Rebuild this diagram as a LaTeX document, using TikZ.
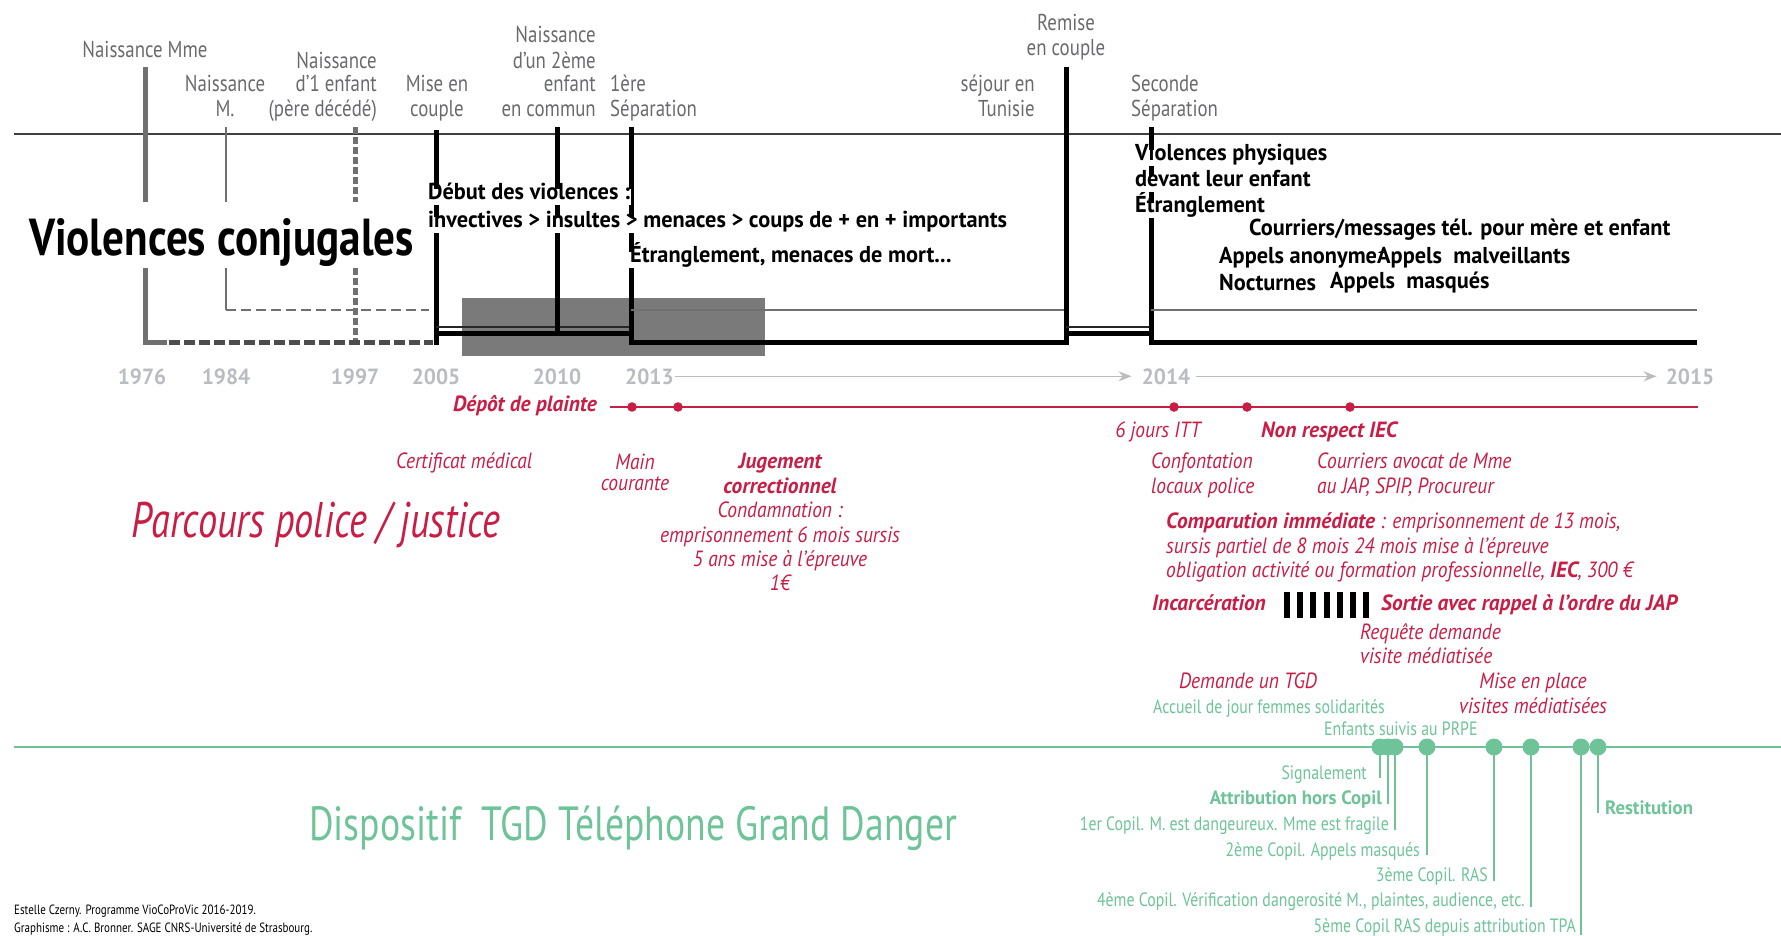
\documentclass[tikz,border=0pt]{standalone}
\usepackage{fontspec}
\setmainfont{PT Sans}[UprightFeatures={FakeStretch=0.82}, ItalicFeatures={FakeStretch=0.885}, BoldFeatures={FakeStretch=0.97}, BoldItalicFeatures={FakeStretch=0.97}]
\newfontfamily\titlefont{PT Sans}[FakeStretch=0.83]
\newfontfamily\parcfont{PT Sans}[FakeStretch=0.77]
\newfontfamily\tgdfont{PT Sans}[FakeStretch=0.785]
\usetikzlibrary{arrows.meta}
\definecolor{lblgray}{RGB}{105,106,109}
\definecolor{yrgray}{RGB}{185,188,193}
\definecolor{boxgray}{RGB}{122,122,122}
\definecolor{mmegray}{RGB}{112,112,112}
\definecolor{jred}{RGB}{200,30,70}
\definecolor{tgdgreen}{RGB}{110,196,152}
\tikzset{
  toplbl/.style={font=\fontsize{23}{25}\selectfont, text=lblgray, inner sep=0pt},
  blk/.style={font=\bfseries\fontsize{23}{26}\selectfont, text=black, fill=white, inner xsep=1pt, inner ysep=3pt, text height=0.75em, text depth=0.25em},
  yr/.style={font=\bfseries\fontsize{22}{24}\selectfont, text=yrgray, inner sep=0pt},
  rd/.style={font=\itshape\fontsize{22}{24}\selectfont, text=jred, inner sep=0pt},
  rdb/.style={font=\bfseries\itshape\fontsize{22}{24}\selectfont, text=jred, inner sep=0pt},
  gr/.style={font=\fontsize{19.3}{22}\selectfont, text=tgdgreen, inner sep=0pt},
  grb/.style={font=\bfseries\fontsize{19.3}{22}\selectfont, text=tgdgreen, inner sep=0pt},
  blkline/.style={line width=5pt, black},
  thinblk/.style={line width=1.5pt, black!85},
  thingray/.style={line width=1.8pt, mmegray},
  mmeline/.style={line width=5pt, mmegray},
  dline/.style={line width=5pt, mmegray, dash pattern=on 7pt off 3pt},
  yarrow/.style={line width=1.5pt, yrgray, -{Stealth[length=13pt,width=10pt]}},
  grline/.style={line width=2.5pt, tgdgreen},
}
\begin{document}
\begin{tikzpicture}[x=1pt,y=-1pt]
\useasboundingbox (0,0) rectangle (1781,935);

% grey box
\fill[boxgray] (462,298) rectangle (765,356);

% top axis line
\draw[line width=1.5pt, black!75] (14,134) -- (1781,134);

% Mme
\draw[mmeline] (145,67) -- (145,202);
\draw[mmeline] (145,268) -- (145,342) -- (167,342);
\draw[line width=5pt, black!70, dash pattern=on 11pt off 4pt] (169,342) -- (433,342);
% M.
\draw[thingray, line width=1.3pt] (226,127) -- (226,202);
\draw[thingray, line width=1.3pt] (226,268) -- (226,310);
\draw[thingray, line width=1.5pt, dash pattern=on 10pt off 5pt] (226,310) -- (429,310);
% 1997
\draw[dline] (355,127) -- (355,202);
\draw[dline] (355,268) -- (355,340);
% couple 1
\draw[blkline] (436,130) -- (436,344.5);
\draw[thinblk] (436,327) -- (631,327);
\draw[blkline] (433.5,333) -- (631,333);
\draw[blkline] (557,127) -- (557,333);
\draw[blkline] (631,127) -- (631,344.5);
% separation 1
\draw[blkline] (631,342) -- (1066,342);
\draw[thingray] (631,310) -- (1066,310);
\draw[blkline] (1066,67) -- (1066,344.5);
% couple 2
\draw[thinblk] (1066,327) -- (1151,327);
\draw[blkline] (1066,333) -- (1151,333);
\draw[blkline] (1151,127) -- (1151,344.5);
% separation 2
\draw[blkline] (1151,342) -- (1697,342);
\draw[thingray] (1151,310) -- (1697,310);

% top labels
\node[toplbl, anchor=base] (lmme) at (145,57) {Naissance Mme};
\node[toplbl, anchor=base] (lm1) at (225,91) {Naissance};
\node[toplbl, anchor=base] (lm2) at (225,116) {M.};
\node[toplbl, anchor=base east] (le1) at (377,68) {Naissance};
\node[toplbl, anchor=base east] (le2) at (377,91) {d’1 enfant};
\node[toplbl, anchor=base east] (le3) at (377,116) {(père décédé)};
\node[toplbl, anchor=base] (lc1) at (437,91) {Mise en};
\node[toplbl, anchor=base] (lc2) at (437,116) {couple};
\node[toplbl, anchor=base east] (ld1) at (596,42) {Naissance};
\node[toplbl, anchor=base east] (ld2) at (596,68) {d’un 2ème};
\node[toplbl, anchor=base east] (ld3) at (596,91) {enfant};
\node[toplbl, anchor=base east] (ld4) at (596,116) {en commun};
\node[toplbl, anchor=base west] (ls1) at (610,91) {1ère};
\node[toplbl, anchor=base west] (ls2) at (610,116) {Séparation};
\node[toplbl, anchor=base east] (lt1) at (1035,91) {séjour en};
\node[toplbl, anchor=base east] (lt2) at (1035,116) {Tunisie};
\node[toplbl, anchor=base] (lr1) at (1066,30) {Remise};
\node[toplbl, anchor=base] (lr2) at (1066,55) {en couple};
\node[toplbl, anchor=base west] (lq1) at (1131,91) {Seconde};
\node[toplbl, anchor=base west] (lq2) at (1131,116) {Séparation};

% title
\node[font=\titlefont\bfseries\fontsize{52}{56}\selectfont, inner sep=0pt, anchor=base west] (title) at (29,255) {Violences conjugales};

% black annotations
\node[blk, anchor=base west] (b1) at (427,199) {Début des violences :};
\node[blk, anchor=base west] (b2) at (427,227) {invectives > insultes > menaces > coups de + en + importants};
\node[blk, anchor=base west] (b3) at (629,262) {Étranglement, menaces de mort...};
\node[blk, anchor=base west] (b4) at (1134,160) {Violences physiques};
\node[blk, anchor=base west] (b5) at (1134,186) {devant leur enfant};
\node[blk, anchor=base west] (b6) at (1134,212) {Étranglement};
\node[blk, anchor=base west, fill=none] (b7) at (1248,235) {Courriers/messages tél. pour mère et enfant};
\node[blk, anchor=base west, fill=none] (b8) at (1218,263) {Appels anonymes};
\node[blk, anchor=base west] (b9) at (1376,263) {Appels\ \ malveillants};
\node[blk, anchor=base west, fill=none] (b10) at (1218,290) {Nocturnes};
\node[blk, anchor=base west, fill=none] (b11) at (1329,288) {Appels\ \ masqués};

% years
\node[yr, anchor=base] (y1976) at (142,384) {1976};
\node[yr, anchor=base] (y1984) at (226,384) {1984};
\node[yr, anchor=base] (y1997) at (355,384) {1997};
\node[yr, anchor=base] (y2005) at (436,384) {2005};
\node[yr, anchor=base] (y2010) at (557,384) {2010};
\node[yr, anchor=base west] (y2013) at (625,384) {2013};
\node[yr, anchor=base] (y2014) at (1166,384) {2014};
\node[yr, anchor=base] (y2015) at (1690,384) {2015};
\draw[yarrow, shorten <=1pt, shorten >=10pt] (y2013.east) -- (y2014.west);
\draw[yarrow, shorten <=6pt, shorten >=9pt] (y2014.east) -- (y2015.west);

% red police/justice line
\coordinate (r0) at (610,407);
\coordinate (r1) at (1698,407);
\draw[line width=1.5pt, jred] (r0) -- (r1);
\foreach \x in {632,678,1174,1247,1350} \fill[jred] (\x,407) circle[radius=4.8pt];

\node[rdb, anchor=base east] (depot) at (597,411) {Dépôt de plainte};
\node[rd, anchor=base west] (certif) at (396,468) {Certificat médical};
\node[rd, anchor=base] (main1) at (635,469) {Main};
\node[rd, anchor=base] (main2) at (635,490) {courante};
\node[rdb, anchor=base] (jug1) at (780,468) {Jugement};
\node[rdb, anchor=base] (jug2) at (780,493) {correctionnel};
\node[rd, anchor=base] (jug3) at (780,517) {Condamnation :};
\node[rd, anchor=base] (jug4) at (780,542) {emprisonnement 6 mois sursis};
\node[rd, anchor=base] (jug5) at (780,566) {5 ans mise à l’épreuve};
\node[rd, anchor=base] (jug6) at (780,590) {1€};
\node[rd, anchor=base] (itt) at (1158,437) {6 jours ITT};
\node[rdb, anchor=base west] (nonresp) at (1261,437) {Non respect IEC};
\node[rd, anchor=base west] (conf1) at (1151,468) {Confontation};
\node[rd, anchor=base west] (conf2) at (1151,493) {locaux police};
\node[rd, anchor=base west] (cour1) at (1317,468) {Courriers avocat de Mme};
\node[rd, anchor=base west] (cour2) at (1317,493) {au JAP, SPIP, Procureur};
\node[rd, anchor=base west] (comp1) at (1166,528) {\bfseries Comparution immédiate\mdseries\ : emprisonnement de 13 mois,};
\node[rd, anchor=base west] (comp2) at (1166,553) {sursis partiel de 8 mois 24 mois mise à l’épreuve};
\node[rd, anchor=base west] (comp3) at (1166,577) {obligation activité ou formation professionnelle, \textbf{IEC}, 300 €};
\node[rdb, anchor=base west] (incarc) at (1152,610) {Incarcération};
\foreach \i in {0,...,6} \fill[black] ({1284+\i*13.2},592) rectangle ({1290+\i*13.2},618);
\node[rdb, anchor=base west] (sortie) at (1381,610) {Sortie avec rappel à l’ordre du JAP};
\node[rd, anchor=base west] (req1) at (1360,639) {Requête demande};
\node[rd, anchor=base west] (req2) at (1360,663) {visite médiatisée};
\node[rd, anchor=base] (demtgd) at (1248,688) {Demande un TGD};
\node[rd, anchor=base] (mep1) at (1533,688) {Mise en place};
\node[rd, anchor=base] (mep2) at (1533,713) {visites médiatisées};

\node[font=\parcfont\itshape\fontsize{50}{54}\selectfont, text=jred, inner sep=0pt, anchor=base west] (parcours) at (131,537) {Parcours police / justice};

% green TGD line
\coordinate (g0) at (14,747);
\coordinate (g1) at (1781,747);
\draw[line width=2pt, tgdgreen] (g0) -- (g1);
\node[gr, anchor=base west] (accueil) at (1153,713) {Accueil de jour femmes solidarités};
\node[gr, anchor=base west] (prpe) at (1324,735) {Enfants suivis au PRPE};

\draw[grline] (1380,747) -- (1380,778);
\draw[grline] (1388,747) -- (1388,804);
\draw[grline] (1395,747) -- (1395,830);
\draw[grline] (1427,747) -- (1427,855);
\draw[grline] (1494,747) -- (1494,881);
\draw[grline] (1531,747) -- (1531,907);
\draw[grline] (1581,747) -- (1581,935);
\draw[grline] (1598,747) -- (1598,813);
\foreach \x in {1380,1388,1395,1427,1494,1531,1581,1598} \fill[tgdgreen] (\x,747) circle[radius=8.5pt];

\node[gr, anchor=base east] (sig) at (1367,779) {Signalement};
\node[grb, anchor=base east] (attr) at (1382,804) {Attribution hors Copil};
\node[gr, anchor=base east] (cp1) at (1389,830) {1er Copil. M. est dangeureux. Mme est fragile};
\node[gr, anchor=base east] (cp2) at (1420,856) {2ème Copil. Appels masqués};
\node[gr, anchor=base east] (cp3) at (1488,881) {3ème Copil. RAS};
\node[gr, anchor=base east] (cp4) at (1525,906) {4ème Copil. Vérification dangerosité M., plaintes, audience, etc.};
\node[gr, anchor=base east] (cp5) at (1576,932) {5ème Copil RAS depuis attribution TPA};
\node[grb, anchor=base west] (restit) at (1605,814) {Restitution};

\node[font=\tgdfont\fontsize{48}{52}\selectfont, text=tgdgreen, inner sep=0pt, anchor=base west] (tgd) at (309,840) {Dispositif\ \ TGD Téléphone Grand Danger};

% credits
\node[font=\fontsize{13.4}{15}\selectfont, inner sep=0pt, anchor=base west] (cred1) at (14,914) {Estelle Czerny. Programme VioCoProVic 2016-2019.};
\node[font=\fontsize{13.4}{15}\selectfont, inner sep=0pt, anchor=base west] (cred2) at (14,932) {Graphisme : A.C. Bronner. SAGE CNRS-Université de Strasbourg.};
\end{tikzpicture}
\end{document}
